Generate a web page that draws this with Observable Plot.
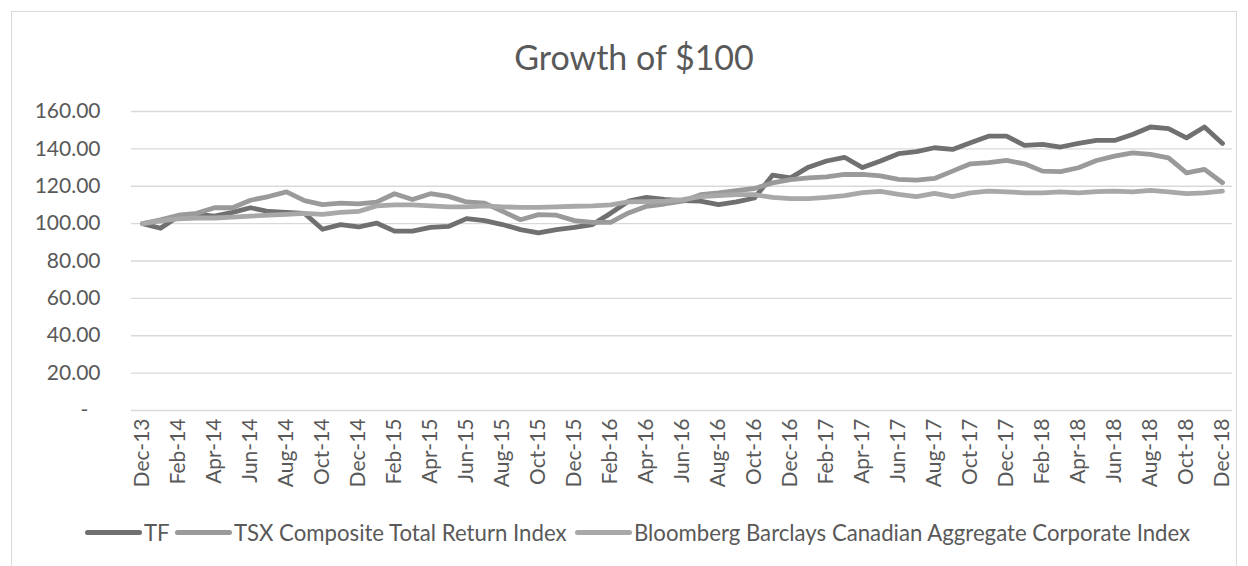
<!DOCTYPE html>
<html><head><meta charset="utf-8">
<script src="https://cdn.jsdelivr.net/npm/d3@7"></script>
<script src="https://cdn.jsdelivr.net/npm/@observablehq/plot@0.6"></script>
<style>
body{margin:0;background:#fff;font-family:Lato,sans-serif;color:#595959;width:1248px;height:566px;overflow:hidden;position:relative}
#frame{position:absolute;left:11px;top:11px;width:1226px;height:600px;border:1px solid #d9d9d9;box-sizing:border-box}
#title{position:absolute;left:0;width:1268px;top:40px;line-height:1;text-align:center;font-size:34px;color:#595959;white-space:nowrap}
#chart{position:absolute;left:0;top:0}
.item{position:absolute;top:518px;height:28px;display:flex;align-items:center;font-size:22.2px;white-space:nowrap;color:#595959}
.sw{width:57px;height:5px;border-radius:3px;margin-right:2px}
</style></head><body>
<div id="frame"></div>
<div id="title">Growth of $100</div>
<div id="chart"></div>
<div id="legend"></div>
<script>
const months = ["Dec-13","Jan-14","Feb-14","Mar-14","Apr-14","May-14","Jun-14","Jul-14","Aug-14","Sep-14","Oct-14","Nov-14",
"Dec-14","Jan-15","Feb-15","Mar-15","Apr-15","May-15","Jun-15","Jul-15","Aug-15","Sep-15","Oct-15","Nov-15",
"Dec-15","Jan-16","Feb-16","Mar-16","Apr-16","May-16","Jun-16","Jul-16","Aug-16","Sep-16","Oct-16","Nov-16",
"Dec-16","Jan-17","Feb-17","Mar-17","Apr-17","May-17","Jun-17","Jul-17","Aug-17","Sep-17","Oct-17","Nov-17",
"Dec-17","Jan-18","Feb-18","Mar-18","Apr-18","May-18","Jun-18","Jul-18","Aug-18","Sep-18","Oct-18","Nov-18","Dec-18"];
const seriesNames = ["TF","TSX Composite Total Return Index","Bloomberg Barclays Canadian Aggregate Corporate Index"];
const tf = [100,97.5,104,105,104,106,108.5,106.5,106,105.5,97,99.5,
98.2,100.3,96,96,98,98.5,102.7,101.6,99.5,96.8,95,96.8,
98,99.5,105.5,112,114,113,112.3,112,110.2,111.6,113.7,125.9,
124.5,130.2,133.5,135.5,130,133.5,137.4,138.5,140.6,139.7,143.3,146.8,
146.8,141.9,142.4,141,142.9,144.5,144.5,147.7,151.7,150.8,145.9,151.7,142.9];
const tsx = [100,102,104.5,105.5,108.5,108.5,112.5,114.5,117,112.3,110.2,111,
110.6,111.5,116,112.9,116,114.6,111.6,111,106.6,102.1,104.8,104.5,
101.6,100.7,100.7,105.7,109.3,110.5,112,115.5,116.4,117.7,118.8,121.8,
123.6,124.5,125,126.3,126.3,125.5,123.7,123.3,124.2,128.1,132,132.6,
133.8,132,128.1,127.8,129.9,133.8,136.1,137.9,137,135.2,127.2,129,121.9];
const bbg = [100,101.5,102.5,103,103,103.5,104,104.5,105,105.5,105,106,
106.5,109.5,110,110,109.5,109,109,109.5,109,108.7,108.7,109,
109.3,109.5,110,111.6,111.8,112,112.9,114.5,115,115.5,115.5,114,
113.4,113.4,114,115,116.6,117.3,115.7,114.4,116.2,114.4,116.5,117.4,
117,116.5,116.5,117,116.5,117.1,117.4,117,117.8,117,116,116.5,117.4];
const yTicks = [0,20,40,60,80,100,120,140,160];
const xTicks = months.filter((d,i)=>i%2===0);
const colors = ["#707070","#9a9a9a","#a8a8a8"];

const data = [];
[tf,tsx,bbg].forEach((arr,s)=>arr.forEach((v,i)=>data.push({series:seriesNames[s],month:months[i],value:v})));

const chart = Plot.plot({
  width:1248, height:566,
  marginLeft:131, marginRight:16, marginTop:111, marginBottom:156,
  style:{background:"transparent",fontFamily:"Lato, sans-serif",fontSize:"21px",color:"#595959",overflow:"visible"},
  x:{type:"point",domain:months,padding:0.5,axis:null,label:null},
  y:{domain:[0,160],axis:null,label:null},
  color:{domain:seriesNames,range:colors},
  marks:[
    Plot.gridY(yTicks,{stroke:"#d9d9d9",strokeOpacity:1,strokeWidth:1.3}),
    Plot.axisY({ticks:yTicks,tickSize:0,tickPadding:31,label:null,tickFormat:d=>d===0?"-\u2007":d.toFixed(2),fontSize:21,fill:"#595959"}),
    Plot.axisX({ticks:xTicks,tickRotate:-90,tickSize:0,tickPadding:8,label:null,fontSize:21,fill:"#595959"}),
    Plot.line(data,{x:"month",y:"value",stroke:"series",z:"series",strokeWidth:4.8,strokeLinejoin:"round",strokeLinecap:"round"})
  ]
});
document.getElementById("chart").appendChild(chart);

const legendPos = [85,175,575];
const legend = document.getElementById("legend");
seriesNames.forEach((n,i)=>{
  const it = document.createElement("div");
  it.className="item"; it.style.left = legendPos[i]+"px";
  const sw = document.createElement("div"); sw.className="sw"; sw.style.background=colors[i];
  const tx = document.createElement("span"); tx.textContent=n;
  it.appendChild(sw); it.appendChild(tx); legend.appendChild(it);
});
</script>
</body></html>
